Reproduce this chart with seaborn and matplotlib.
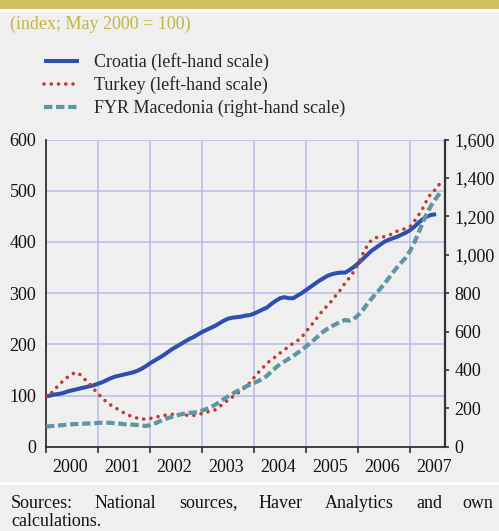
import numpy as np
import pandas as pd
import matplotlib.pyplot as plt
import seaborn as sns
from matplotlib.patches import Rectangle

# monthly index values, starting January 2000 (May 2000 = 100)
croatia = [98, 100, 102, 103, 105, 108, 110, 112, 114, 116, 118, 120,
           123, 126, 130, 134, 137, 139, 141, 143, 145, 148, 152, 157,
           163, 168, 173, 178, 184, 190, 195, 200, 205, 210, 214, 219,
           224, 228, 232, 236, 241, 246, 250, 252, 253, 254, 256, 257,
           260, 264, 268, 272, 279, 285, 290, 292, 290, 290, 295, 300,
           306, 312, 318, 324, 329, 334, 337, 339, 340, 340, 345, 351,
           358, 366, 374, 382, 388, 394, 400, 404, 407, 410, 414, 418,
           423, 430, 438, 445, 450, 453, 454]
turkey = [97, 103, 112, 121, 129, 136, 142, 145, 140, 131, 123, 113,
          103, 95, 87, 81, 76, 71, 66, 62, 58, 56, 54, 54,
          55, 57, 59, 61, 62, 63, 64, 62, 62, 61, 61, 63,
          65, 67, 70, 72, 78, 85, 91, 97, 103, 110, 116, 125,
          135, 145, 154, 163, 170, 176, 183, 189, 196, 202, 207, 214,
          225, 235, 246, 257, 268, 276, 286, 297, 307, 320, 330, 342,
          358, 375, 391, 403, 408, 410, 410, 413, 416, 421, 424, 426,
          430, 441, 453, 467, 484, 497, 503, 516]
macedonia = [105, 107, 109, 111, 113, 115, 117, 118, 119, 120, 121, 122,
             124, 125, 125, 124, 122, 120, 117, 116, 115, 113, 111, 108,
             112, 120, 130, 140, 148, 155, 162, 168, 173, 176, 178, 180,
             188, 196, 206, 218, 232, 248, 262, 276, 288, 300, 312, 322,
             332, 342, 355, 370, 392, 412, 430, 444, 458, 472, 488, 505,
             522, 540, 560, 580, 600, 615, 628, 640, 652, 660, 656, 665,
             685, 710, 740, 768, 795, 820, 846, 876, 906, 935, 960, 985,
             1020, 1065, 1118, 1172, 1222, 1262, 1295, 1325]

years = [2000, 2001, 2002, 2003, 2004, 2005, 2006, 2007]
left_ticks = [0, 100, 200, 300, 400, 500, 600]
right_ticks = [0, 200, 400, 600, 800, 1000, 1200, 1400, 1600]
series_labels = ["Croatia (left-hand scale)", "Turkey (left-hand scale)",
                 "FYR Macedonia (right-hand scale)"]
subtitle = "(index; May 2000 = 100)"
source_words = ["Sources:", "National", "sources,", "Haver", "Analytics", "and", "own"]
source_line2 = "calculations."


def monthly_frame(values):
    t = years[0] + np.arange(len(values)) / 12
    return pd.DataFrame({"date": t, "value": values})


sns.set_theme(style="white")
plt.rcParams['font.family'] = ['Liberation Serif', 'DejaVu Serif']

BG = "#efefef"
GRID = "#b8bbe6"
DARK = "#333333"
FS = 13

fig = plt.figure(figsize=(4.99, 5.31), dpi=100, facecolor=BG)
ax = fig.add_axes([46 / 499, 1 - 446.7 / 531, 399 / 499, 307.2 / 531])
ax.set_facecolor(BG)
ax2 = ax.twinx()
ax2.patch.set_visible(False)

sns.lineplot(data=monthly_frame(croatia), x="date", y="value", ax=ax,
             color="#2c4fb0", linewidth=2.9, solid_capstyle="butt", zorder=3)
sns.lineplot(data=monthly_frame(turkey), x="date", y="value", ax=ax,
             color="#bf3b2e", linewidth=2.6, linestyle=(0, (0.01, 2.0)),
             dash_capstyle="round", zorder=4)
sns.lineplot(data=monthly_frame(macedonia), x="date", y="value", ax=ax2,
             color="#5f96a6", linewidth=3.0, linestyle=(0, (2.0, 0.9)),
             dash_capstyle="butt", zorder=3)

# x axis: year boundaries as ticks/grid, year names centred in between
ax.set_xlim(2000.0, 2007.67)
ax.set_xticks(years)
ax.set_xticklabels([])
ax.set_xticks([y + 0.46 for y in years], minor=True)
ax.set_xticklabels([str(y) for y in years], minor=True, fontsize=FS, color="#111111")
ax.tick_params(axis="x", which="major", direction="out", length=4.5, width=1.2,
               color=DARK, bottom=True)
ax.tick_params(axis="x", which="minor", length=0, pad=9, bottom=True)
ax.set_xlabel("")

ax.set_ylim(0, 600)
ax.set_yticks(left_ticks)
ax.set_yticklabels([str(v) for v in left_ticks], fontsize=FS, color="#111111")
ax.tick_params(axis="y", length=0, pad=7)
ax.set_ylabel("")

ax2.set_ylim(0, 1600)
ax2.set_yticks(right_ticks)
ax2.set_yticklabels([f"{v:,}" for v in right_ticks], fontsize=FS, color="#111111")
ax2.tick_params(axis="y", direction="out", length=3, width=1.2, color=DARK, pad=4, right=True)
ax2.set_ylabel("")

ax.grid(True, which="major", color=GRID, linewidth=1.1)
ax.set_axisbelow(True)

for a in (ax, ax2):
    a.spines["top"].set_visible(False)
    for s in ("left", "bottom", "right"):
        a.spines[s].set_color(DARK)
        a.spines[s].set_linewidth(1.3)
ax.spines["right"].set_visible(False)
ax2.spines["left"].set_visible(False)
ax2.spines["bottom"].set_visible(False)
ax2.spines["right"].set_linewidth(1.6)

# legend
handles = [ax.get_lines()[0], ax.get_lines()[1], ax2.get_lines()[0]]
fig.legend(handles, series_labels, loc="upper left",
           bbox_to_anchor=(44 / 499, 1 - 53 / 531), frameon=False,
           fontsize=FS, handlelength=1.95, handletextpad=0.8,
           labelspacing=0.3, borderpad=0, borderaxespad=0)

# header band and subtitle
fig.patches.append(Rectangle((0, 1 - 9 / 531), 1, 9 / 531, transform=fig.transFigure,
                             facecolor="#cfc162", edgecolor="none"))
fig.patches.append(Rectangle((0, 1 - 11.5 / 531), 1, 2.5 / 531, transform=fig.transFigure,
                             facecolor="white", edgecolor="none"))
fig.text(10 / 499, 1 - 24 / 531, subtitle, fontsize=FS, color="#c4b545",
         ha="left", va="center")

# footer
fig.patches.append(Rectangle((0, 1 - 484.5 / 531), 1, 2.5 / 531, transform=fig.transFigure,
                             facecolor="white", edgecolor="none"))
word_x = [11, 95, 179, 259, 325, 416, 462]
for w, xp in zip(source_words, word_x):
    fig.text(xp / 499, 1 - 503 / 531, w, fontsize=FS, color="#111111",
             ha="left", va="center")
fig.text(11 / 499, 1 - 521 / 531, source_line2, fontsize=FS, color="#111111",
         ha="left", va="center")

fig.savefig("out.png", dpi=100, facecolor=BG)
